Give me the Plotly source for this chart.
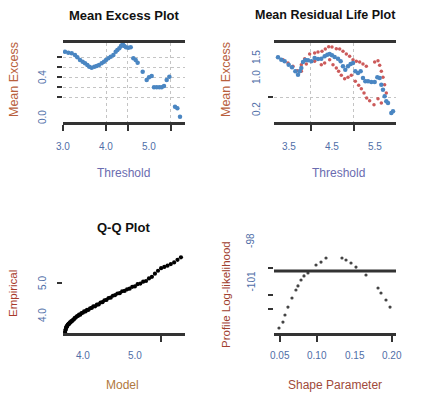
import plotly.graph_objects as go

# ---------------- data ----------------
# Mean Excess Plot
me_threshold = [3.047, 3.124, 3.202, 3.279, 3.333, 3.395, 3.457, 3.512, 3.566, 3.612,
                3.667, 3.729, 3.783, 3.837, 3.899, 3.953, 4.000, 4.054, 4.109, 4.171,
                4.225, 4.264, 4.310, 4.349, 4.388, 4.426, 4.465, 4.519, 4.574, 4.636,
                4.690, 4.736, 4.853, 4.946, 5.000, 5.062, 5.116, 5.178, 5.240, 5.295,
                5.349, 5.411, 5.473, 5.605, 5.659, 5.721]
me_excess = [0.653, 0.643, 0.637, 0.620, 0.597, 0.570, 0.553, 0.537, 0.520, 0.503,
             0.493, 0.503, 0.510, 0.520, 0.537, 0.553, 0.570, 0.587, 0.603, 0.620,
             0.653, 0.670, 0.687, 0.710, 0.730, 0.710, 0.697, 0.693, 0.697, 0.587,
             0.570, 0.543, 0.453, 0.370, 0.397, 0.410, 0.297, 0.297, 0.297, 0.297,
             0.310, 0.370, 0.403, 0.103, 0.087, 0.003]

# Mean Residual Life Plot
mrl_threshold = [3.233, 3.310, 3.388, 3.481, 3.558, 3.636, 3.698, 3.736, 3.775, 3.814,
                 3.868, 3.930, 4.008, 4.085, 4.163, 4.240, 4.318, 4.380, 4.434, 4.488,
                 4.550, 4.628, 4.690, 4.744, 4.798, 4.860, 4.922, 4.977, 5.031, 5.093,
                 5.155, 5.209, 5.264, 5.326, 5.403, 5.481, 5.543, 5.597, 5.636, 5.674,
                 5.713, 5.752, 5.791, 5.868, 5.907]
mrl_mean = [1.492, 1.433, 1.392, 1.308, 1.242, 1.142, 1.058, 1.142, 1.225, 1.375,
            1.425, 1.417, 1.392, 1.475, 1.450, 1.458, 1.517, 1.558, 1.575, 1.542,
            1.500, 1.458, 1.392, 1.267, 1.183, 1.267, 1.325, 1.350, 1.142, 1.100,
            1.142, 0.975, 0.892, 0.892, 0.875, 0.875, 0.992, 0.975, 0.808, 0.683,
            0.517, 0.392, 0.350, 0.100, 0.142]
mrl_upper_x = [3.233, 3.349, 3.465, 3.581, 3.682, 3.775, 3.853, 3.969, 4.085, 4.163,
               4.256, 4.333, 4.411, 4.488, 4.589, 4.667, 4.744, 4.822, 4.899, 4.977,
               5.054, 5.132, 5.209, 5.287, 5.481, 5.558, 5.597, 5.636, 5.674, 5.713,
               5.752]
mrl_upper = [1.492, 1.433, 1.350, 1.267, 1.158, 1.308, 1.458, 1.575, 1.600, 1.625,
             1.642, 1.700, 1.758, 1.750, 1.708, 1.700, 1.642, 1.575, 1.517, 1.433,
             1.392, 1.375, 1.325, 1.267, 1.375, 1.408, 1.292, 1.142, 0.992, 0.808,
             0.600]
mrl_lower_x = [3.775, 3.891, 4.085, 4.240, 4.318, 4.434, 4.512, 4.589, 4.643, 4.705,
               4.783, 4.860, 4.938, 5.031, 5.109, 5.171, 5.233, 5.295, 5.364, 5.465,
               5.558, 5.636]
mrl_lower = [1.142, 1.325, 1.392, 1.308, 1.350, 1.433, 1.308, 1.225, 1.142, 1.042,
             0.958, 0.992, 1.042, 0.892, 0.792, 0.708, 0.600, 0.475, 0.408, 0.308,
             0.458, 0.350]

# Q-Q Plot
qq_model = [3.655, 3.662, 3.668, 3.675, 3.683, 3.690, 3.698, 3.707, 3.716, 3.726,
            3.737, 3.749, 3.762, 3.776, 3.791, 3.807, 3.824, 3.842, 3.861, 3.881,
            3.902, 3.924, 3.947, 3.971, 3.996, 4.022, 4.049, 4.077, 4.106, 4.136,
            4.167, 4.199, 4.232, 4.266, 4.301, 4.337, 4.374, 4.412, 4.451, 4.491,
            4.532, 4.574, 4.617, 4.661, 4.706, 4.752, 4.799, 4.847, 4.896, 4.946,
            4.997, 5.049, 5.102, 5.156, 5.211, 5.267, 5.324, 5.382, 5.441, 5.501,
            5.562, 5.624, 5.687, 5.751, 5.816, 5.882]
qq_empirical = [3.47, 3.53, 3.55, 3.61, 3.62, 3.65, 3.66, 3.70, 3.70, 3.73,
                3.73, 3.77, 3.77, 3.81, 3.81, 3.85, 3.86, 3.91, 3.92, 3.96,
                3.97, 4.01, 4.01, 4.06, 4.07, 4.11, 4.11, 4.16, 4.16, 4.21,
                4.22, 4.27, 4.27, 4.32, 4.33, 4.39, 4.40, 4.46, 4.47, 4.53,
                4.54, 4.60, 4.62, 4.67, 4.68, 4.74, 4.75, 4.80, 4.82, 4.88,
                4.89, 4.96, 4.98, 5.04, 5.06, 5.14, 5.19, 5.29, 5.38, 5.46,
                5.50, 5.54, 5.59, 5.64, 5.72, 5.80]

# Profile log-likelihood
pl_shape = [0.0487, 0.0540, 0.0567, 0.0607, 0.0661, 0.0714, 0.0741, 0.0782, 0.0822,
            0.0875, 0.0983, 0.1050, 0.1117, 0.1331, 0.1385, 0.1452, 0.1519, 0.1653,
            0.1814, 0.1854, 0.1921, 0.1975]
pl_loglik = [-104.44, -104.00, -103.48, -102.89, -102.22, -101.63, -101.33, -100.89,
             -100.59, -100.37, -99.78, -99.56, -99.26, -99.26, -99.41, -99.63, -99.93,
             -100.52, -101.48, -101.85, -102.37, -102.89]
pl_ci_level = -100.22

# axis tick positions (marks) and tick labels
me_xticks = [3.0, 4.0, 4.5, 5.5]
me_yticks = [0.2, 0.3, 0.4, 0.5, 0.6]
me_xlab_vals = [3.0, 4.0, 5.0]
me_xlab_text = ["3.0", "4.0", "5.0"]
me_ylab_vals = [0.0, 0.4]
me_ylab_text = ["0.0", "0.4"]

mrl_xticks = [4.0, 5.0]
mrl_yticks = [0.5]
mrl_xlab_vals = [3.5, 4.5, 5.5]
mrl_xlab_text = ["3.5", "4.5", "5.5"]
mrl_ylab_vals = [1.5, 1.0, 0.2]
mrl_ylab_text = ["1.5", "1.0", "0.2"]

qq_xticks = [5.5]
qq_yticks = [5.0]
qq_xlab_vals = [4.0, 5.0]
qq_xlab_text = ["4.0", "5.0"]
qq_ylab_vals = [4.0, 5.0]
qq_ylab_text = ["4.0", "5.0"]

pl_xticks = [0.05, 0.10, 0.20]
pl_yticks = [-100, -102, -103]
pl_xlab_vals = [0.05, 0.10, 0.15, 0.20]
pl_xlab_text = ["0.05", "0.10", "0.15", "0.20"]
pl_ylab_vals = [-98, -101]
pl_ylab_text = ["-98", "-101"]

# ---------------- styling ----------------
FONT = "Liberation Sans, Arial, sans-serif"
AX = "#333333"
GRID = "#c4c4c4"
TICKLAB = "#4f6ea8"
BLUE = "#4a86c2"
RED = "#cc5a5a"
W, H = 422, 399

def px_x(p):
    return p / W

def px_y(p):
    return 1 - p / H

top_dom = [px_y(121.5), px_y(43)]
bot_dom = [px_y(333), px_y(240)]
left_dom = [px_x(63), px_x(185)]
right_dom = [px_x(274), px_x(396)]

fig = go.Figure()

fig.add_trace(go.Scatter(x=me_threshold, y=me_excess, mode="markers",
                         marker=dict(color=BLUE, size=4.5), xaxis="x", yaxis="y"))
fig.add_trace(go.Scatter(x=mrl_upper_x, y=mrl_upper, mode="markers",
                         marker=dict(color=RED, size=3.5), xaxis="x2", yaxis="y2"))
fig.add_trace(go.Scatter(x=mrl_lower_x, y=mrl_lower, mode="markers",
                         marker=dict(color=RED, size=3.5), xaxis="x2", yaxis="y2"))
fig.add_trace(go.Scatter(x=mrl_threshold, y=mrl_mean, mode="markers",
                         marker=dict(color=BLUE, size=4.5), xaxis="x2", yaxis="y2"))
fig.add_trace(go.Scatter(x=qq_model, y=qq_empirical, mode="markers",
                         marker=dict(color="black", size=4.2), xaxis="x3", yaxis="y3"))
fig.add_trace(go.Scatter(x=pl_shape, y=pl_loglik, mode="markers",
                         marker=dict(color="#444444", size=3.2), xaxis="x4", yaxis="y4"))


def xaxis(domain, anchor, rng, ticks, grid, mirror):
    return dict(domain=domain, anchor=anchor, range=rng, zeroline=False,
                showline=True, linecolor=AX, linewidth=3, mirror=mirror,
                tickmode="array", tickvals=ticks, ticks="outside", ticklen=6,
                tickwidth=2, tickcolor=AX, showticklabels=False,
                showgrid=grid, gridcolor=GRID, griddash="dot", gridwidth=1.3)


def yaxis(domain, anchor, rng, ticks, grid):
    return dict(domain=domain, anchor=anchor, range=rng, zeroline=False,
                showline=False, tickmode="array", tickvals=ticks, ticks="outside",
                ticklen=5, tickwidth=2, tickcolor=AX, showticklabels=False,
                showgrid=grid, gridcolor=GRID, griddash="dot", gridwidth=1.3)


fig.update_layout(
    width=W, height=H, margin=dict(l=0, r=0, t=0, b=0),
    paper_bgcolor="white", plot_bgcolor="white", showlegend=False,
    font=dict(family=FONT),
    xaxis=xaxis(left_dom, "y", [3.0, 5.837], me_xticks, True, True),
    yaxis=yaxis(top_dom, "x", [-0.045, 0.74], me_yticks, True),
    xaxis2=xaxis(right_dom, "y2", [3.140, 5.977], mrl_xticks, True, True),
    yaxis2=yaxis(top_dom, "x2", [-0.1125, 1.85], mrl_yticks, True),
    xaxis3=xaxis(left_dom, "y3", [3.615, 5.96], qq_xticks, False, False),
    yaxis3=yaxis(bot_dom, "x3", [3.4375, 6.34], qq_yticks, False),
    xaxis4=xaxis(right_dom, "y4", [0.042, 0.2055], pl_xticks, False, False),
    yaxis4=yaxis(bot_dom, "x4", [-104.81, -97.93], pl_yticks, False),
)

# CI threshold line on profile plot
fig.add_shape(type="line", xref="x4 domain", yref="y4", x0=0, x1=1,
              y0=pl_ci_level, y1=pl_ci_level, line=dict(color=AX, width=3))

ann = []
tick_font = dict(size=10, color=TICKLAB, family=FONT)


def xlabels(xref, vals, texts, ypx):
    for v, t in zip(vals, texts):
        ann.append(dict(x=v, y=px_y(ypx), xref=xref, yref="paper", text=t,
                        showarrow=False, font=tick_font, xanchor="center", yanchor="middle"))


def ylabels(yref, vals, texts, xpx):
    for v, t in zip(vals, texts):
        ann.append(dict(x=px_x(xpx), y=v, xref="paper", yref=yref, text=t,
                        showarrow=False, font=tick_font, textangle=-90,
                        xanchor="center", yanchor="middle"))


xlabels("x", me_xlab_vals, me_xlab_text, 146)
ylabels("y", me_ylab_vals, me_ylab_text, 42)
xlabels("x2", mrl_xlab_vals, mrl_xlab_text, 146)
ylabels("y2", mrl_ylab_vals, mrl_ylab_text, 256)
xlabels("x3", qq_xlab_vals, qq_xlab_text, 355)
ylabels("y3", qq_ylab_vals, qq_ylab_text, 43)
xlabels("x4", pl_xlab_vals, pl_xlab_text, 355)
ylabels("y4", pl_ylab_vals, pl_ylab_text, 251)

# titles
titles = [("Mean Excess Plot", 123.5, 15, 13),
          ("Mean Residual Life Plot", 325, 15, 12.5),
          ("Q-Q Plot", 123, 227, 13)]
for t, xp, yp, s in titles:
    ann.append(dict(x=px_x(xp), y=px_y(yp), xref="paper", yref="paper",
                    text="<b>" + t + "</b>", showarrow=False,
                    xanchor="center", yanchor="middle",
                    font=dict(size=s, color="#111111", family=FONT)))

# axis titles
xtitles = [("Threshold", 123, 173, "#6a6cb0"),
           ("Threshold", 338, 173, "#6a6cb0"),
           ("Model", 122, 385, "#b07840"),
           ("Shape Parameter", 335, 385, "#a04a3a")]
for t, xp, yp, c in xtitles:
    ann.append(dict(x=px_x(xp), y=px_y(yp), xref="paper", yref="paper", text=t,
                    showarrow=False, xanchor="center", yanchor="middle",
                    font=dict(size=12, color=c, family=FONT)))

ytitles = [("Mean Excess", 14, 80, "#b8603c", 12.5),
           ("Mean Excess", 226, 80, "#b8603c", 12.5),
           ("Empirical", 13, 294, "#a83a2a", 11.5),
           ("Profile Log-likelihood", 226, 295, "#a0402e", 11.5)]
for t, xp, yp, c, s in ytitles:
    ann.append(dict(x=px_x(xp), y=px_y(yp), xref="paper", yref="paper", text=t,
                    textangle=-90, showarrow=False, xanchor="center", yanchor="middle",
                    font=dict(size=s, color=c, family=FONT)))

fig.update_layout(annotations=ann)

fig.write_html("out.html")
